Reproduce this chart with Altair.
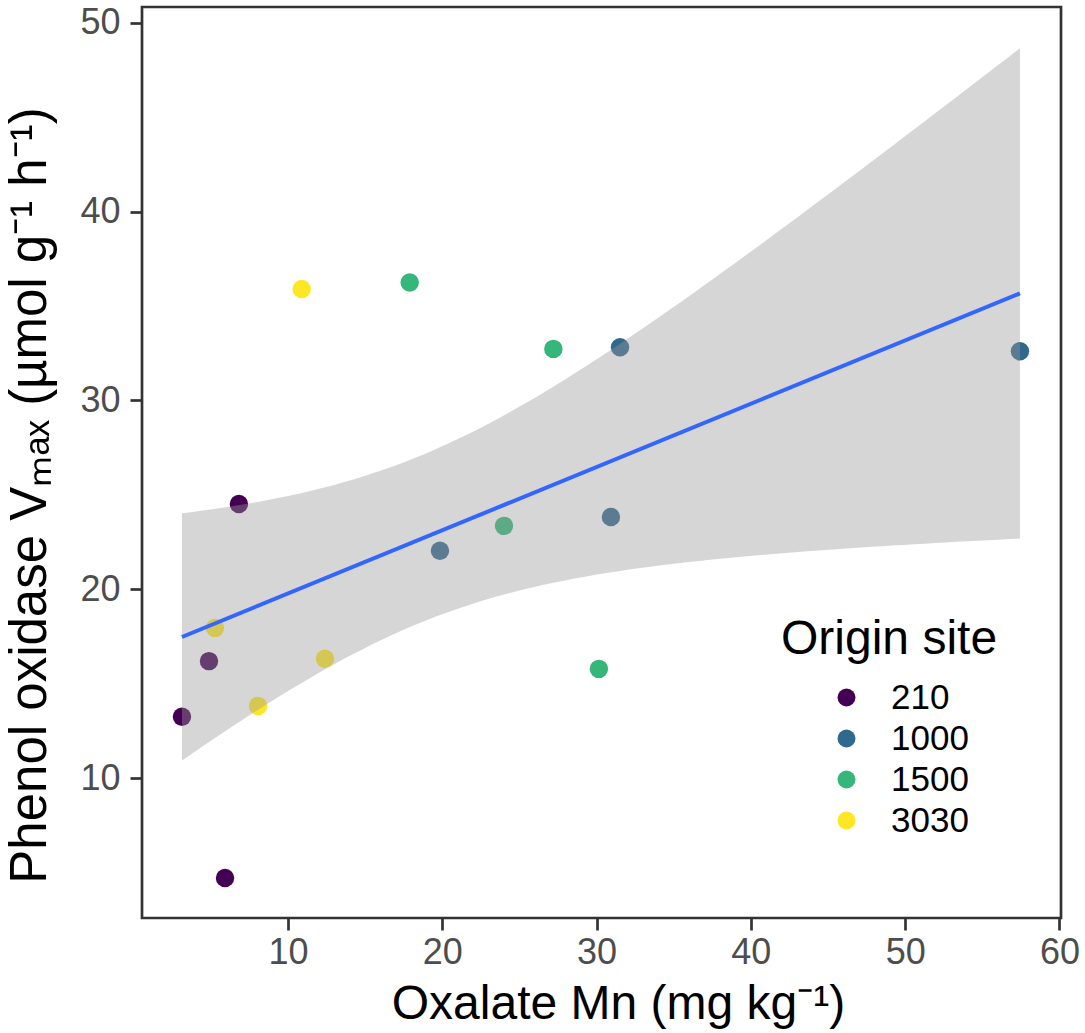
import altair as alt
import numpy as np
import pandas as pd

# Oxalate-extractable Mn (mg/kg) and phenol oxidase Vmax for each origin site
site_210_mn = [3.13, 5.92, 4.88, 6.82]
site_210_vmax = [13.25, 4.72, 16.2, 24.52]
site_1000_mn = [19.85, 30.93, 31.52, 57.44]
site_1000_vmax = [22.04, 23.83, 32.82, 32.6]
site_1500_mn = [17.89, 24.0, 27.2, 30.15]
site_1500_vmax = [36.24, 23.36, 32.73, 15.79]
site_3030_mn = [5.27, 8.06, 10.89, 12.4]
site_3030_vmax = [17.96, 13.83, 35.9, 16.33]

sites = ["210", "1000", "1500", "3030"]
site_colors = ["#440154", "#31688E", "#35B779", "#FDE725"]
x_ticks = [10, 20, 30, 40, 50, 60]
y_ticks = [10, 20, 30, 40, 50]

rows = []
for site, mn, vm in [
    ("210", site_210_mn, site_210_vmax),
    ("1000", site_1000_mn, site_1000_vmax),
    ("1500", site_1500_mn, site_1500_vmax),
    ("3030", site_3030_mn, site_3030_vmax),
]:
    for a, b in zip(mn, vm):
        rows.append({"mn": a, "vmax": b, "site": site})
points = pd.DataFrame(rows)

# Ordinary least squares fit with a 95% confidence band for the mean
x = points["mn"].to_numpy()
y = points["vmax"].to_numpy()
n = len(x)
slope, intercept = np.polyfit(x, y, 1)
resid = y - (intercept + slope * x)
s = np.sqrt(np.sum(resid ** 2) / (n - 2))
sxx = np.sum((x - x.mean()) ** 2)
t_crit = 2.1448  # t quantile, 0.975, 14 df
grid = np.linspace(x.min(), x.max(), 80)
fit = intercept + slope * grid
se = s * np.sqrt(1.0 / n + (grid - x.mean()) ** 2 / sxx)
band = pd.DataFrame({"mn": grid, "fit": fit, "lo": fit - t_crit * se, "hi": fit + t_crit * se})

FONT = "Liberation Sans"

x_scale = alt.Scale(domain=[0.54, 60.1], nice=False, zero=False)
y_scale = alt.Scale(domain=[2.6, 50.83], nice=False, zero=False)

x_axis = alt.Axis(
    title="Oxalate Mn (mg kg⁻¹)", values=x_ticks, grid=False, domain=False,
    tickSize=12, tickWidth=2.7, tickColor="#333333",
    labelFont=FONT, labelFontSize=36, labelColor="#4d4d4d", labelPadding=5,
    titleFont=FONT, titleFontSize=48, titleFontWeight="normal", titleColor="#000000",
    titleBaseline="alphabetic", titleY=100, titleX=476,
)
y_axis = alt.Axis(
    title="Phenol oxidase Vₘₐₓ (µmol g⁻¹ h⁻¹)", values=y_ticks, grid=False, domain=False,
    tickSize=12, tickWidth=2.7, tickColor="#333333",
    labelFont=FONT, labelFontSize=36, labelColor="#4d4d4d", labelPadding=10,
    titleFont=FONT, titleFontSize=51, titleFontWeight="normal", titleColor="#000000",
    titleBaseline="alphabetic", titleX=-97, titleY=488,
)

color = alt.Color(
    "site:N",
    scale=alt.Scale(domain=sites, range=site_colors),
    legend=alt.Legend(
        title="Origin site", orient="none", legendX=639, legendY=609,
        titleFont=FONT, titleFontSize=48, titleFontWeight="normal", titleColor="#000000",
        titlePadding=16, titleLimit=400,
        labelFont=FONT, labelFontSize=35, labelColor="#000000", labelOffset=27,
        symbolType="circle", symbolSize=324, symbolOpacity=1, symbolStrokeWidth=0,
        symbolOffset=48, rowPadding=5,
    ),
)

pts = alt.Chart(points).mark_circle(size=340, opacity=1).encode(
    x=alt.X("mn:Q", scale=x_scale, axis=x_axis),
    y=alt.Y("vmax:Q", scale=y_scale, axis=y_axis),
    color=color,
)

ribbon = alt.Chart(band).mark_area(color="#999999", opacity=0.4).encode(
    x=alt.X("mn:Q", scale=x_scale),
    y=alt.Y("lo:Q", scale=y_scale),
    y2="hi:Q",
)

line = alt.Chart(points).transform_regression(
    "mn", "vmax", method="linear", extent=[float(x.min()), float(x.max())]
).mark_line(color="#3366FF", strokeWidth=4).encode(
    x=alt.X("mn:Q", scale=x_scale),
    y=alt.Y("vmax:Q", scale=y_scale),
)

chart = alt.layer(pts, ribbon, line).properties(
    width=919, height=911,
    autosize=alt.AutoSizeParams(type="none"),
    padding={"left": 142, "top": 7, "right": 24, "bottom": 115},
    background="white",
).configure_view(stroke="#333333", strokeWidth=2.7)

chart.save("out.html", embed_options={"renderer": "svg", "actions": False})
